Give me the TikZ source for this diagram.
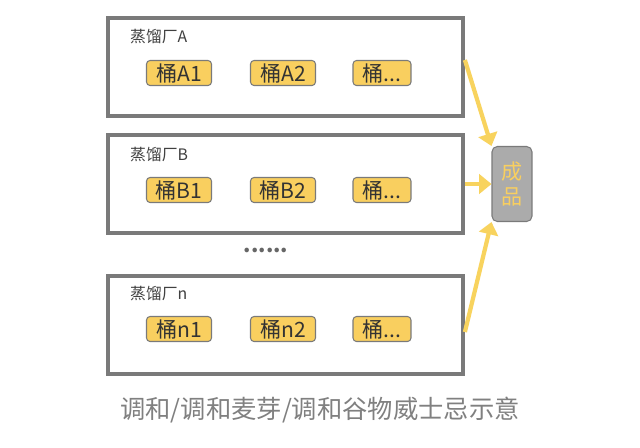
\documentclass[tikz,border=0pt]{standalone}
\usepackage{fontspec}
\setmainfont{Noto Sans CJK SC}
\usetikzlibrary{positioning,arrows.meta}
\definecolor{barrel}{HTML}{F9CF5F}
\definecolor{frame}{HTML}{7A7A7A}
\definecolor{arrowy}{HTML}{F8D35E}
\tikzset{
  plant/.style={draw=frame, line width=2.2pt, minimum width=7.1cm, minimum height=1.96cm},
  cask/.style={fill=barrel, draw=frame, line width=0.6pt, rounded corners=2pt, minimum height=0.5cm, font=\large, text=black!80, inner sep=1pt},
  feed/.style={draw=arrowy, line width=2.4pt, -{Triangle[length=7pt,width=11pt]}}
}
\begin{document}
\begin{tikzpicture}[x=0.02cm, y=-0.02cm]
  \useasboundingbox (0,0) rectangle (640,447);
  \fill[white] (0,0) rectangle (640,447);

  \node[plant] (plantA) at (285.5,67) {};
  \node[plant] (plantB) at (285.5,184) {};
  \node[plant] (plantN) at (285.5,325) {};

  \node[anchor=west, text=black!75, font=\small] at (124,37) {蒸馏厂A};
  \node[anchor=west, text=black!75, font=\small] at (124,155) {蒸馏厂B};
  \node[anchor=west, text=black!75, font=\small] at (124,294) {蒸馏厂n};

  \node[cask, minimum width=1.3cm] (a1) at (179,73) {桶A1};
  \node[cask, minimum width=1.3cm] (a2) at (283,73) {桶A2};
  \node[cask, minimum width=1.16cm] (a3) at (382,73) {桶...};
  \node[cask, minimum width=1.3cm] (b1) at (179,190) {桶B1};
  \node[cask, minimum width=1.3cm] (b2) at (283,190) {桶B2};
  \node[cask, minimum width=1.16cm] (b3) at (382,190) {桶...};
  \node[cask, minimum width=1.3cm] (n1) at (179,329) {桶n1};
  \node[cask, minimum width=1.3cm] (n2) at (283,329) {桶n2};
  \node[cask, minimum width=1.16cm] (n3) at (382,329) {桶...};

  \node[font=\large\bfseries, text=black!60] (dots) at (266,250) {......};

  \node[fill=black!33, draw=frame, line width=0.6pt, rounded corners=3pt,
        minimum width=0.8cm, minimum height=1.5cm, text=barrel, font=\large,
        align=center, inner sep=1pt] (prod) at (512,184) {成\\品};

  \draw[feed] ([yshift=4pt]plantA.east) -- (prod.north west);
  \draw[feed] (plantB.east) -- (prod.west);
  \draw[feed] ([yshift=-4pt]plantN.east) -- (prod.south west);

  \node[text=black!50, font=\Large] (caption) at (320,410) {调和/调和麦芽/调和谷物威士忌示意};
\end{tikzpicture}
\end{document}
